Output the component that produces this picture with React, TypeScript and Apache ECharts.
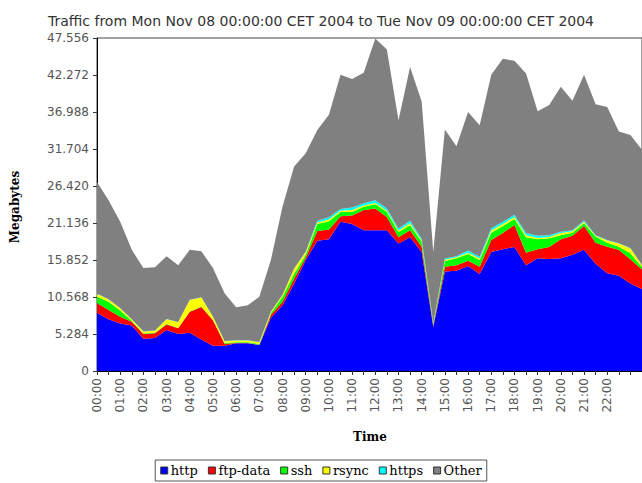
import React, { useEffect, useRef } from "react";
import * as echarts from "echarts";

const titleText = "Traffic from Mon Nov 08 00:00:00 CET 2004 to Tue Nov 09 00:00:00 CET 2004";

const times = [
  "00:00", "00:30", "01:00", "01:30", "02:00", "02:30", "03:00", "03:30",
  "04:00", "04:30", "05:00", "05:30", "06:00", "06:30", "07:00", "07:30",
  "08:00", "08:30", "09:00", "09:30", "10:00", "10:30", "11:00", "11:30",
  "12:00", "12:30", "13:00", "13:30", "14:00", "14:30", "15:00", "15:30",
  "16:00", "16:30", "17:00", "17:30", "18:00", "18:30", "19:00", "19:30",
  "20:00", "20:30", "21:00", "21:30", "22:00", "22:30", "23:00", "23:30",
];

const yTicks = [0, 5.284, 10.568, 15.852, 21.136, 26.42, 31.704, 36.988, 42.272, 47.556];

const http = [
  8.3, 7.4, 6.8, 6.5, 4.6, 4.7, 5.85, 5.3, 5.45, 4.5, 3.6, 3.6, 3.95, 3.95, 3.7, 7.6,
  9.4, 12.5, 15.85, 18.6, 18.8, 21.3, 21.0, 20.1, 20.1, 20.1, 18.2, 19.1, 17.0, 6.3, 14.2, 14.3,
  15.0, 13.85, 17.0, 17.4, 17.7, 15.1, 16.1, 16.0, 16.1, 16.6, 17.3, 15.3, 13.95, 13.6, 12.5, 11.7,
];
const ftpData = [
  1.4, 1.3, 0.95, 0.55, 0.7, 0.7, 0.8, 0.8, 3.0, 4.65, 3.65, 0.3, 0.05, 0.05, 0.05, 0.45,
  0.5, 0.7, 0.35, 1.4, 1.4, 0.8, 1.2, 2.9, 3.1, 1.9, 0.9, 1.0, 0.75, 0.2, 0.7, 0.8,
  0.75, 1.05, 1.7, 2.3, 3.15, 1.8, 1.3, 1.7, 2.7, 2.7, 3.4, 3.0, 3.8, 3.7, 3.45, 2.8,
];
const ssh = [
  0.9, 1.2, 0.9, 0.1, 0.05, 0.05, 0.05, 0.05, 0.05, 0.05, 0.05, 0.1, 0.1, 0.1, 0.1, 0.2,
  0.7, 0.7, 0.4, 1.0, 1.2, 0.6, 0.5, 0.45, 0.6, 0.7, 0.75, 0.7, 0.7, 0.2, 0.8, 1.0,
  0.95, 0.95, 1.05, 1.0, 0.85, 2.2, 1.4, 1.25, 0.6, 0.45, 0.4, 0.9, 0.55, 0.45, 0.85, 0.3,
];
const rsync = [
  0.4, 0.3, 0.3, 0.2, 0.3, 0.3, 0.7, 0.8, 1.65, 1.3, 0.45, 0.25, 0.25, 0.25, 0.25, 0.2,
  0.25, 0.7, 0.4, 0.2, 0.25, 0.2, 0.3, 0.2, 0.2, 0.2, 0.2, 0.3, 0.2, 0.1, 0.2, 0.15,
  0.2, 0.2, 0.3, 0.3, 0.3, 0.3, 0.2, 0.2, 0.3, 0.2, 0.2, 0.1, 0.35, 0.45, 0.7, 0.3,
];
const https = [
  0.05, 0.05, 0.05, 0.05, 0.03, 0.03, 0.03, 0.03, 0.03, 0.03, 0.03, 0.03, 0.03, 0.03, 0.03, 0.05,
  0.05, 0.05, 0.05, 0.25, 0.3, 0.25, 0.35, 0.3, 0.4, 0.3, 0.3, 0.35, 0.25, 0.05, 0.15, 0.15,
  0.3, 0.25, 0.35, 0.3, 0.3, 0.3, 0.3, 0.25, 0.2, 0.15, 0.2, 0.1, 0.05, 0.05, 0.05, 0.05,
];
const other = [
  15.95, 14.15, 12.3, 9.9, 9.02, 9.02, 8.97, 8.12, 7.12, 6.57, 6.92, 6.82, 4.72, 5.02, 6.47, 7.4,
  12.6, 14.55, 14.05, 12.95, 14.65, 19.15, 18.35, 18.65, 23.1, 22.7, 15.45, 21.95, 19.6, 10.15, 18.45, 15.7,
  19.8, 18.8, 21.9, 23.3, 22.0, 22.8, 17.8, 18.6, 20.7, 18.5, 20.8, 18.7, 19.0, 15.95, 16.15, 16.45,
];

const seriesNames = ["http", "ftp-data", "ssh", "rsync", "https", "Other"];
const seriesColors = ["#0000ff", "#ff0000", "#00ff00", "#ffff00", "#00ffff", "#808080"];
const seriesData = [http, ftpData, ssh, rsync, https, other];

export default function App() {
  const ref = useRef<HTMLDivElement>(null);
  useEffect(() => {
    if (!ref.current) return;
    const chart = echarts.init(ref.current, null, { renderer: "svg" });
    chart.setOption({
      animation: false,
      backgroundColor: "#ffffff",
      textStyle: { fontFamily: "DejaVu Sans" },
      title: {
        text: titleText,
        left: "center",
        top: 9,
        textStyle: { fontSize: 14, fontWeight: "normal", color: "#333", fontFamily: "DejaVu Sans" },
      },
      grid: {
        left: 97,
        right: 0,
        top: 38,
        bottom: 112,
        show: true,
        borderColor: "#444",
        borderWidth: 1,
        backgroundColor: "transparent",
      },
      legend: {
        data: seriesNames,
        left: "center",
        bottom: 2,
        icon: "rect",
        itemWidth: 7,
        itemHeight: 7,
        itemGap: 10,
        padding: [4, 5, 4, 5],
        borderColor: "#555",
        borderWidth: 1,
        itemStyle: { borderColor: "#333", borderWidth: 1 },
        textStyle: { fontFamily: "DejaVu Serif", fontSize: 13, color: "#000", padding: [0, 0, 0, -2] },
      },
      xAxis: {
        type: "category",
        data: times,
        boundaryGap: false,
        axisLine: { show: true, lineStyle: { color: "#000", width: 1 } },
        axisTick: { show: true, interval: 0, length: 4, lineStyle: { color: "#333" } },
        axisLabel: {
          rotate: 90,
          interval: (index: number) => index % 2 === 0 && index <= 44,
          margin: 7,
          fontSize: 12,
          color: "#555",
          fontFamily: "DejaVu Sans",
        },
        splitLine: { show: false },
      },
      yAxis: {
        type: "value",
        min: yTicks[0],
        max: yTicks[yTicks.length - 1],
        interval: yTicks[1],
        axisLine: { show: true, lineStyle: { color: "#000", width: 1 } },
        axisTick: { show: true, length: 4, lineStyle: { color: "#333" } },
        axisLabel: {
          margin: 8,
          fontSize: 12,
          color: "#555",
          fontFamily: "DejaVu Sans",
          formatter: (v: number) => (Math.abs(v) < 1e-9 ? "0" : v.toFixed(3)),
        },
        splitLine: { show: false },
      },
      graphic: [
        {
          type: "text",
          x: 15,
          y: 207,
          rotation: Math.PI / 2,
          style: {
            text: "Megabytes",
            fontFamily: "DejaVu Serif",
            fontWeight: "bold",
            fontSize: 12,
            fill: "#000",
            align: "center",
            verticalAlign: "middle",
          },
        },
        {
          type: "text",
          x: 370,
          y: 437,
          style: {
            text: "Time",
            fontFamily: "DejaVu Serif",
            fontWeight: "bold",
            fontSize: 12,
            fill: "#000",
            align: "center",
            verticalAlign: "middle",
          },
        },
      ],
      series: seriesNames.map((name, i) => ({
        name,
        type: "line",
        stack: "total",
        data: seriesData[i],
        showSymbol: false,
        symbol: "none",
        color: seriesColors[i],
        lineStyle: { width: 0 },
        areaStyle: { color: seriesColors[i], opacity: 1 },
        emphasis: { disabled: true },
      })),
    });
    return () => chart.dispose();
  }, []);
  return <div ref={ref} style={{ width: 642, height: 483, position: "absolute", left: 0, top: 0 }} />;
}
